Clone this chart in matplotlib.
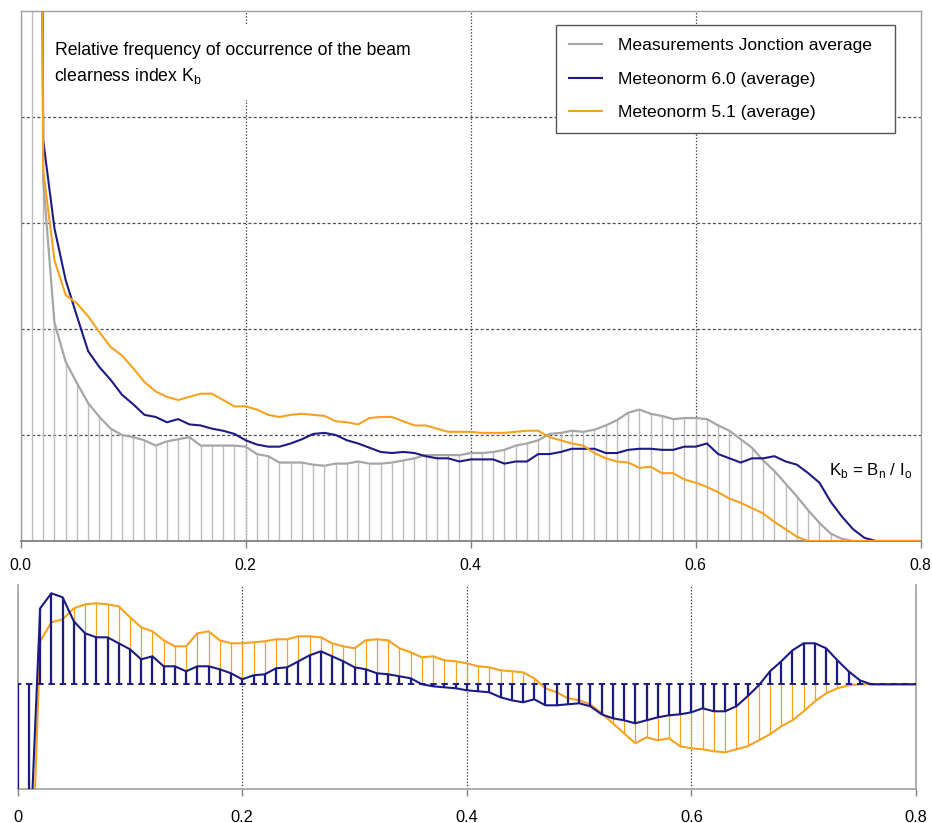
import numpy as np
import matplotlib
matplotlib.use("Agg")
import matplotlib.pyplot as plt
from matplotlib.patches import Rectangle

plt.rcParams['font.family'] = ['Liberation Sans', 'DejaVu Sans']
plt.rcParams['mathtext.fontset'] = 'custom'
plt.rcParams['mathtext.rm'] = 'Liberation Sans'
plt.rcParams['lines.scale_dashes'] = False

# ---------------- data ----------------
kb = np.round(np.arange(0, 81) * 0.01, 2)

meas_jonction = [30, 30, 3.4, 2.06, 1.69, 1.49, 1.30, 1.17, 1.06, 1.00,
                 0.98, 0.95, 0.90, 0.94, 0.96, 0.98, 0.90, 0.90, 0.90, 0.90,
                 0.89, 0.82, 0.80, 0.74, 0.74, 0.74, 0.72, 0.71, 0.73, 0.73,
                 0.75, 0.73, 0.73, 0.74, 0.76, 0.78, 0.81, 0.81, 0.81, 0.81,
                 0.83, 0.83, 0.84, 0.86, 0.90, 0.92, 0.95, 1.01, 1.02, 1.04,
                 1.03, 1.05, 1.09, 1.14, 1.21, 1.24, 1.20, 1.18, 1.15, 1.16,
                 1.16, 1.15, 1.09, 1.04, 0.96, 0.88, 0.76, 0.66, 0.54, 0.42,
                 0.29, 0.17, 0.07, 0.02, 0, 0, 0, 0, 0, 0, 0]

meteonorm60 = [30, 30, 3.78, 2.95, 2.46, 2.12, 1.79, 1.64, 1.52, 1.38,
               1.29, 1.19, 1.17, 1.12, 1.15, 1.10, 1.09, 1.06, 1.04, 1.01,
               0.95, 0.91, 0.89, 0.89, 0.92, 0.96, 1.01, 1.02, 1.00, 0.95,
               0.92, 0.88, 0.84, 0.83, 0.84, 0.83, 0.80, 0.78, 0.78, 0.75,
               0.77, 0.77, 0.77, 0.73, 0.75, 0.75, 0.82, 0.82, 0.84, 0.87,
               0.87, 0.87, 0.83, 0.83, 0.86, 0.87, 0.87, 0.86, 0.86, 0.89,
               0.89, 0.92, 0.82, 0.78, 0.74, 0.78, 0.78, 0.80, 0.75, 0.72,
               0.64, 0.55, 0.37, 0.23, 0.11, 0.03, 0, 0, 0, 0, 0]

meteonorm51 = [30, 30, 3.5, 2.65, 2.32, 2.24, 2.12, 1.97, 1.83, 1.75,
               1.63, 1.50, 1.41, 1.36, 1.33, 1.36, 1.39, 1.39, 1.33, 1.27,
               1.27, 1.24, 1.19, 1.17, 1.19, 1.20, 1.19, 1.18, 1.13, 1.12,
               1.10, 1.16, 1.17, 1.17, 1.13, 1.09, 1.09, 1.06, 1.03, 1.03,
               1.03, 1.02, 1.02, 1.02, 1.03, 1.04, 1.04, 0.98, 0.95, 0.92,
               0.90, 0.83, 0.78, 0.75, 0.74, 0.69, 0.70, 0.64, 0.64, 0.58,
               0.55, 0.51, 0.46, 0.40, 0.36, 0.31, 0.26, 0.18, 0.11, 0.04,
               0, 0, 0, 0, 0, 0, 0, 0, 0, 0, 0]

diff60 = [-1.5, -1.9, 0.76, 0.91, 0.87, 0.63, 0.51, 0.47, 0.47, 0.41,
          0.35, 0.25, 0.28, 0.18, 0.18, 0.13, 0.18, 0.18, 0.15, 0.11,
          0.05, 0.09, 0.10, 0.16, 0.17, 0.23, 0.29, 0.33, 0.28, 0.23,
          0.17, 0.15, 0.11, 0.10, 0.08, 0.06, 0.00, -0.02, -0.03, -0.04,
          -0.06, -0.07, -0.08, -0.13, -0.16, -0.18, -0.15, -0.21, -0.21, -0.20,
          -0.19, -0.22, -0.30, -0.34, -0.36, -0.39, -0.36, -0.33, -0.31, -0.30,
          -0.28, -0.24, -0.27, -0.27, -0.22, -0.12, -0.01, 0.13, 0.23, 0.34,
          0.41, 0.41, 0.36, 0.24, 0.13, 0.04, 0, 0, 0, 0, 0]

diff51 = [-1.5, -2.8, 0.43, 0.62, 0.65, 0.76, 0.80, 0.81, 0.80, 0.78,
          0.67, 0.57, 0.53, 0.44, 0.38, 0.38, 0.51, 0.53, 0.44, 0.41,
          0.41, 0.42, 0.43, 0.45, 0.45, 0.48, 0.48, 0.47, 0.41, 0.38,
          0.36, 0.44, 0.45, 0.44, 0.36, 0.32, 0.27, 0.28, 0.24, 0.23,
          0.21, 0.18, 0.17, 0.14, 0.13, 0.12, 0.06, -0.04, -0.08, -0.14,
          -0.16, -0.20, -0.29, -0.39, -0.49, -0.59, -0.53, -0.56, -0.54, -0.62,
          -0.64, -0.65, -0.67, -0.68, -0.65, -0.62, -0.56, -0.50, -0.42, -0.36,
          -0.27, -0.17, -0.09, -0.04, -0.01, 0, 0, 0, 0, 0, 0]

top_ticks = [0.0, 0.2, 0.4, 0.6, 0.8]
top_ticklabels = ["0.0", "0.2", "0.4", "0.6", "0.8"]
bot_ticklabels = ["0", "0.2", "0.4", "0.6", "0.8"]
series_labels = ["Measurements Jonction average", "Meteonorm 6.0 (average)",
                 "Meteonorm 5.1 (average)"]
title_lines = ["Relative frequency of occurrence of the beam",
               "clearness index K$_\\mathregular{b}$"]
kb_label = "K$_\\mathregular{b}$ = B$_\\mathregular{n}$ / I$_\\mathregular{o}$"

GREY = "#a6a6a6"
DROP = "#bcbcbc"
NAVY = "#1b1b86"
ORANGE = "#f7a21e"
SPINE = "#a0a0a0"

W, H, DPI = 932, 823, 100
fig = plt.figure(figsize=(W / DPI, H / DPI), dpi=DPI)
fig.patch.set_facecolor("white")

# ---------------- top chart ----------------
AX1_L, AX1_T, AX1_W, AX1_H = 20.7, 11, 900, 530
ax1 = fig.add_axes([AX1_L / W, 1 - (AX1_T + AX1_H) / H, AX1_W / W, AX1_H / H])


def ax1_xy(px, py):
    return (px - AX1_L) / AX1_W, 1 - (py - AX1_T) / AX1_H


ax1.set_xlim(0, 0.8)
ax1.set_ylim(0, 5)
ax1.vlines(kb, 0, meas_jonction, color=DROP, lw=1.0, zorder=1)
l_meas, = ax1.plot(kb, meas_jonction, color=GREY, lw=1.6, zorder=3)
l_m6, = ax1.plot(kb, meteonorm60, color=NAVY, lw=1.5, zorder=4)
l_m5, = ax1.plot(kb, meteonorm51, color=ORANGE, lw=1.5, zorder=5)

for yv in [1, 2, 3, 4]:
    ax1.axhline(yv, color="#505050", lw=0.9, ls=(0, (2.2, 1.6)), zorder=0.5)
for xv in [0.2, 0.4, 0.6]:
    ax1.axvline(xv, color="#404040", lw=0.9, ls=(0, (1.0, 1.3)), zorder=0.5)

ax1.set_xticks(top_ticks)
ax1.set_xticklabels(top_ticklabels, fontsize=11.3)
ax1.set_yticks([])
ax1.tick_params(axis="x", length=5, width=1, color="#808080", pad=7)
for s in ["top", "right", "left"]:
    ax1.spines[s].set_color(SPINE)
    ax1.spines[s].set_linewidth(1.0)
ax1.spines["bottom"].set_color("#808080")
ax1.spines["bottom"].set_linewidth(1.3)

# white background behind the title text
x0, y1 = ax1_xy(46, 25)
x1, y0 = ax1_xy(424, 100)
ax1.add_patch(Rectangle((x0, y0), x1 - x0, y1 - y0, transform=ax1.transAxes,
                        fc="white", ec="none", zorder=5.5))
tx, ty = ax1_xy(55, 55)
ax1.text(tx, ty, title_lines[0], transform=ax1.transAxes, ha="left",
         va="baseline", fontsize=12.7, zorder=6)
tx, ty = ax1_xy(54, 81.5)
ax1.text(tx, ty, title_lines[1], transform=ax1.transAxes, ha="left",
         va="baseline", fontsize=12.7, zorder=6)

kx, ky = ax1_xy(829, 470)
ax1.text(kx, ky, kb_label, transform=ax1.transAxes, ha="left", va="center",
         fontsize=12.2, zorder=6,
         bbox=dict(boxstyle="square,pad=0.2", fc="white", ec="none"))

lx0, ly1 = ax1_xy(556, 25)
lx1, ly0 = ax1_xy(895, 132)
leg = ax1.legend([l_meas, l_m6, l_m5], series_labels,
                 loc="upper left", mode="expand",
                 bbox_to_anchor=(lx0, ly0, lx1 - lx0, ly1 - ly0),
                 fontsize=12.6, frameon=True, fancybox=False, framealpha=1,
                 edgecolor="#555555", handlelength=1.9, handletextpad=0.9,
                 labelspacing=1.06, borderpad=0.72, borderaxespad=0)
leg.get_frame().set_linewidth(1.0)
leg.set_zorder(7)

# ---------------- bottom chart ----------------
AX2_L, AX2_T, AX2_W, AX2_H = 17.7, 585, 898.3, 204
ax2 = fig.add_axes([AX2_L / W, 1 - (AX2_T + AX2_H) / H, AX2_W / W, AX2_H / H])
ax2.set_xlim(0, 0.8)
ax2.set_ylim(-1.047, 0.993)
ax2.vlines(kb, 0, diff51, color=ORANGE, lw=0.9, zorder=1)
ax2.plot(kb, diff51, color=ORANGE, lw=1.5, zorder=2)
ax2.vlines(kb, 0, diff60, color=NAVY, lw=1.6, zorder=3)
ax2.plot(kb, diff60, color=NAVY, lw=1.5, zorder=4)

period_pt = (AX2_W / 80) * 72 / DPI
dash_pt = 4.6
ax2.axhline(0, color=NAVY, lw=1.4, zorder=4,
            ls=(dash_pt / 2, (dash_pt, period_pt - dash_pt)))

for xv in [0.2, 0.4, 0.6]:
    ax2.axvline(xv, color="#404040", lw=0.9, ls=(0, (1.0, 1.3)), zorder=0.5)

ax2.set_xticks(top_ticks)
ax2.set_xticklabels(bot_ticklabels, fontsize=11.8)
ax2.set_yticks([])
ax2.tick_params(axis="x", length=5, width=1, color="#808080", pad=10)
ax2.spines["top"].set_visible(False)
for s in ["right", "left", "bottom"]:
    ax2.spines[s].set_color(SPINE)
    ax2.spines[s].set_linewidth(1.2)

fig.savefig("out.png", dpi=DPI)
